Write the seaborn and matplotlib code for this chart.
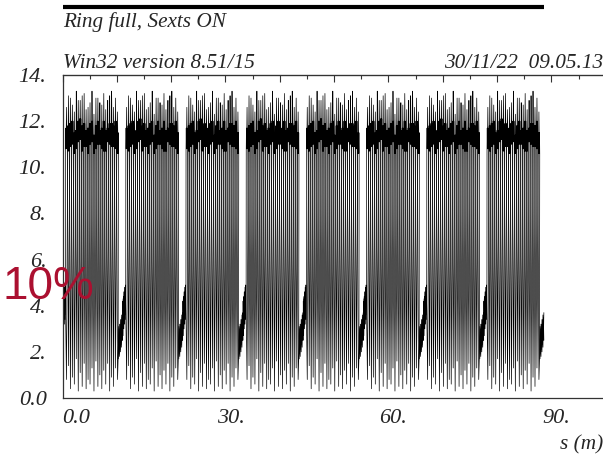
import numpy as np
import pandas as pd
import seaborn as sns
import matplotlib
matplotlib.use("Agg")
import matplotlib.pyplot as plt
import matplotlib.transforms as mtransforms

# ---------------------------------------------------------------------------
# Lattice description: 8 identical superperiods, each = straight / arc / straight
# ---------------------------------------------------------------------------
PERIOD = 11.08          # superperiod length (m)
N_PERIODS = 8
ARC_START = 0.73        # arc begins inside a superperiod (m)
ARC_END = 10.13         # arc ends inside a superperiod (m)
N_CELLS = 13            # cells per arc

# beta_x in the arc (m): minima at cell ends, maxima at cell centres
bx_trough = [0.8, 0.4, 0.6, 0.3, 0.5, 0.4, 0.6, 0.3, 0.5, 0.4, 0.6, 0.3, 0.5, 0.8]
bx_knee_lo = [10.7, 11.0, 10.8, 11.2, 10.9, 10.6, 11.1, 10.8, 11.0, 10.7, 11.1, 10.9, 10.8]
bx_knee_hi = [11.8, 12.0, 11.6, 12.1, 11.9, 11.7, 12.0, 11.8, 11.6, 12.0, 11.7, 11.9, 12.0]
bx_peak = [13.1, 12.7, 13.3, 12.9, 13.2, 12.6, 13.3, 13.0, 12.8, 13.2, 12.9, 13.3, 13.0]

# beta_y in the arc (m): maxima at cell ends, minima at cell centres
by_peak = [12.6, 13.0, 12.4, 12.9, 13.1, 12.5, 12.8, 12.3, 13.0, 12.7, 12.5, 13.1, 12.6, 12.4]
by_knee_hi = [11.7, 11.9, 11.5, 12.0, 11.8, 11.6, 11.9, 11.4, 12.0, 11.7, 11.6, 11.9, 11.8, 11.5]
by_knee_lo = [10.8, 10.9, 10.6, 11.1, 10.7, 10.9, 11.0, 10.6, 11.0, 10.8, 10.7, 11.0, 10.9, 10.6]
by_trough = [1.4, 0.9, 1.7, 1.1, 1.5, 0.8, 1.3, 1.6, 1.0, 1.2, 1.5, 0.9, 1.3]

# straight section, second half (start of a superperiod)
entry_s = [0.00, 0.07, 0.14, 0.21, 0.28, 0.35, 0.42, 0.49, 0.56]
entry_bx = [3.0, 4.3, 3.2, 4.6, 3.4, 4.8, 3.6, 4.9, 3.9]
entry_by = [4.2, 2.7, 4.4, 3.0, 4.6, 3.2, 4.8, 3.4, 4.8]

# straight section, first half (end of a superperiod)
exit_s = [10.24, 10.33, 10.42, 10.51, 10.60, 10.69, 10.78, 10.87, 10.96, 11.04]
exit_bx = [1.7, 3.1, 1.9, 3.2, 2.1, 3.4, 2.3, 3.6, 2.5, 3.7]
exit_by = [2.7, 1.7, 3.0, 1.8, 3.2, 2.0, 3.4, 2.2, 3.5, 2.5]

x_tick_labels = ["0.0", "30.", "60.", "90."]
y_tick_labels = ["0.0", "2.", "4.", "6.", "8.", "10.", "12.", "14."]

# sample offsets across one spike, in cell lengths, and which value sits there
SPIKE_OFFSETS = [-0.21, -0.16, -0.11, -0.05, 0.0, 0.05, 0.11, 0.16, 0.21]
SPIKE_KEYS = ["lo", "hi", "lo", "hi", "peak", "hi", "lo", "hi", "lo"]

L_CELL = (ARC_END - ARC_START) / N_CELLS


def arc_curve(peaks, knee_lo, knee_hi, troughs, spike_shift, trough_shift):
    """Beta curve through an arc: one spike per cell plus the minima between."""
    pts = []
    for k, pk in enumerate(peaks):
        c = ARC_START + (k + spike_shift) * L_CELL
        vals = {"lo": knee_lo[k], "hi": knee_hi[k], "peak": pk}
        for f, key in zip(SPIKE_OFFSETS, SPIKE_KEYS):
            pts.append((c + f * L_CELL, vals[key]))
    for k, tr in enumerate(troughs):
        pts.append((ARC_START + (k + trough_shift) * L_CELL, tr))
    pts.sort()
    return [p[0] for p in pts], [p[1] for p in pts]


sx, vx = arc_curve(bx_peak, bx_knee_lo, bx_knee_hi, bx_trough, 0.5, 0.0)
sy, vy = arc_curve(by_peak, by_knee_lo, by_knee_hi, by_trough, 0.0, 0.5)

rows = []
for p in range(N_PERIODS):
    off = p * PERIOD
    for s, b in zip(entry_s + sx + exit_s, entry_bx + vx + exit_bx):
        rows.append((s + off, b, "x"))
    for s, b in zip(entry_s + sy + exit_s, entry_by + vy + exit_by):
        rows.append((s + off, b, "y"))
df = pd.DataFrame(rows, columns=["s", "beta", "plane"])
ring_length = PERIOD * N_PERIODS

# ---------------------------------------------------------------------------
sns.set_style("white")
plt.rcParams["font.family"] = ["Liberation Serif", "DejaVu Serif"]
plt.rcParams["font.style"] = "italic"

W, H = 603, 454
fig = plt.figure(figsize=(W / 100, H / 100), dpi=100)

px_per_m = 5.433
ax_left = 62.5
ax_bottom = 398
ax_top = 75
x_max = 100.0
ax = fig.add_axes([ax_left / W, (H - ax_bottom) / H,
                   x_max * px_per_m / W, (ax_bottom - ax_top) / H])

sns.lineplot(data=df, x="s", y="beta", hue="plane",
             palette={"x": "black", "y": "black"}, legend=False,
             estimator=None, sort=False, lw=0.5, ax=ax)

ax.set_xlim(0, x_max)
ax.set_ylim(0, 14)
ax.set_xlabel("")
ax.set_ylabel("")

for side in ["left", "bottom", "top"]:
    ax.spines[side].set_visible(True)
    ax.spines[side].set_color("#333333")
    ax.spines[side].set_linewidth(0.9)
ax.spines["right"].set_visible(False)

TICK_FS = 16

# y axis ticks
ax.set_yticks(np.arange(0, 15, 2))
ax.set_yticklabels(y_tick_labels)
ax.set_yticks(np.arange(0, 15, 1), minor=True)
ax.tick_params(axis="y", which="major", direction="out", length=5,
               width=0.8, color="#333333", labelsize=TICK_FS, pad=6.5)
ax.tick_params(axis="y", which="minor", direction="out", length=3,
               width=0.8, color="#333333")

# x axis ticks
ax.set_xticks(np.arange(0, 101, 10))
ax.set_xticklabels(["0.0", "", "", "30.", "", "", "60.", "", "", "90.", ""])
ax.set_xticks(np.arange(0, 101, 5), minor=True)
ax.tick_params(axis="x", which="major", direction="out", length=5,
               width=0.8, color="#333333", labelsize=TICK_FS, pad=3)
ax.tick_params(axis="x", which="minor", direction="out", length=3,
               width=0.8, color="#333333")
shift = mtransforms.ScaledTranslation(5 / 100, 0, fig.dpi_scale_trans)
xlabels = ax.get_xticklabels()
for lbl in xlabels[1:]:
    lbl.set_transform(lbl.get_transform() + shift)
xlabels[0].set_horizontalalignment("left")

# ticks along the top frame
top = ax.secondary_xaxis("top")
top.set_xticks(np.arange(0, 101, 10))
top.set_xticklabels([])
top.set_xticks(np.arange(0, 101, 5), minor=True)
top.tick_params(axis="x", which="major", direction="in", length=5,
                width=0.8, color="#333333")
top.tick_params(axis="x", which="minor", direction="in", length=3,
                width=0.8, color="#333333")
top.spines["top"].set_color("#333333")

# lattice layout bar above the plot
lay = fig.add_axes([ax_left / W, (H - 12) / H, x_max * px_per_m / W, 10 / H],
                   sharex=ax)
lay.hlines(0.5, 0, ring_length, color="black", lw=3)
lay.set_ylim(0, 1)
lay.axis("off")

# header and axis annotations
HEAD_FS = 15.3
fig.text(63 / W, 1 - 27 / H, "Ring full, Sexts ON", fontsize=HEAD_FS,
         ha="left", va="baseline")
fig.text(63 / W, 1 - 68 / H, "Win32 version 8.51/15", fontsize=HEAD_FS,
         ha="left", va="baseline")
fig.text(603 / W, 1 - 68 / H, "30/11/22  09.05.13", fontsize=HEAD_FS,
         ha="right", va="baseline")
fig.text(603 / W, 1 - 449 / H, "s (m)", fontsize=HEAD_FS,
         ha="right", va="baseline")

fig.text(3 / W, 1 - 299 / H, "10%", fontsize=33, color="#ab1030",
         family=["Liberation Sans", "DejaVu Sans"], style="normal",
         ha="left", va="baseline")

fig.savefig("out.png", dpi=100)
